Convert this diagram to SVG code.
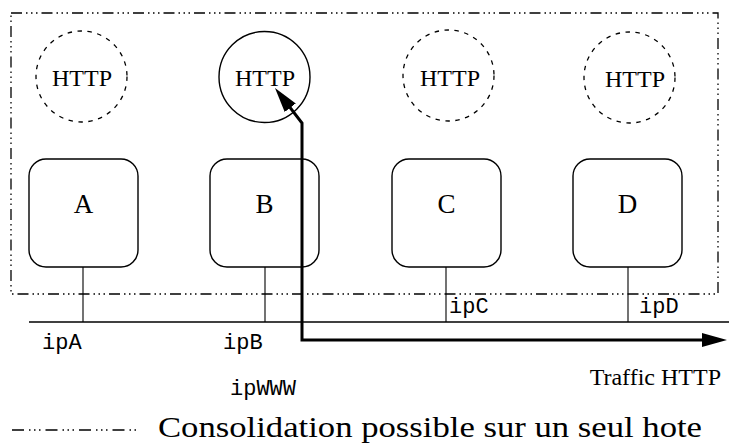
<svg xmlns="http://www.w3.org/2000/svg" width="729" height="443" viewBox="0 0 729 443">
<style>
.frame{fill:none;stroke:#000;stroke-width:1.3;stroke-dasharray:11 4 1.5 3.5 1.5 3.5 1.5 4}
.legend{fill:none;stroke:#000;stroke-width:1.3;stroke-dasharray:12 5 1.5 3.5 1.5 3.5 1.5 5}
.dc{fill:none;stroke:#000;stroke-width:1.3;stroke-dasharray:4.5 5.5}
.sc{fill:none;stroke:#000;stroke-width:1.4}
.box{fill:#fff;stroke:#000;stroke-width:1.4}
.stem{fill:none;stroke:#000;stroke-width:1.1}
.net{fill:none;stroke:#000;stroke-width:1.5}
.flow{fill:none;stroke:#000;stroke-width:3;stroke-linejoin:miter}
.srv{font-family:"Liberation Serif","Times New Roman",serif;font-size:24px;text-anchor:middle;fill:#000}
.let{font-family:"Liberation Serif","Times New Roman",serif;font-size:27px;text-anchor:middle;fill:#000}
.ip{font-family:"Liberation Mono","Courier New",monospace;font-size:22px;fill:#000}
.ser{font-family:"Liberation Serif","Times New Roman",serif;fill:#000}
</style>
<defs>
<marker id="ah" markerUnits="userSpaceOnUse" viewBox="0 0 25 14" markerWidth="25" markerHeight="14" refX="15" refY="7" orient="auto-start-reverse">
<path d="M0,0 L25,7 L0,14 z" fill="#000"/>
</marker>
</defs>
<rect class="frame" x="11" y="13" width="707" height="281"/>
<g id="httpA"><circle class="dc" cx="81.5" cy="76.5" r="45.5"/><text class="srv" x="82" y="86">HTTP</text></g>
<g id="httpB"><circle class="sc" cx="264.5" cy="77" r="45.5"/><text class="srv" x="265" y="86">HTTP</text></g>
<g id="httpC"><circle class="dc" cx="448.5" cy="75.5" r="45.5"/><text class="srv" x="450" y="86">HTTP</text></g>
<g id="httpD"><circle class="dc" cx="629.5" cy="77.5" r="45.5"/><text class="srv" x="635" y="87">HTTP</text></g>
<g id="hostA"><rect class="box" x="29" y="159" width="109" height="108" rx="17"/><text class="let" x="83.5" y="213">A</text></g>
<g id="hostB"><rect class="box" x="210" y="159" width="109" height="108" rx="17"/><text class="let" x="264.5" y="213">B</text></g>
<g id="hostC"><rect class="box" x="392" y="159" width="109" height="108" rx="17"/><text class="let" x="446.5" y="213">C</text></g>
<g id="hostD"><rect class="box" x="573" y="159" width="109" height="108" rx="17"/><text class="let" x="627.5" y="213">D</text></g>
<g id="connectors">
<path class="net" d="M29,322 H729"/>
<path class="stem" d="M83,267 V322 M265,267 V322 M446,267 V322 M628,267 V322"/>
<path class="flow" d="M281.1,95.9 L302,123 L302,340 L717,340" marker-start="url(#ah)" marker-end="url(#ah)"/>
</g>
<g id="labels">
<text class="ip" x="42" y="349">ipA</text>
<text class="ip" x="223" y="349">ipB</text>
<text class="ip" x="230" y="395">ipWWW</text>
<text class="ip" x="449" y="313">ipC</text>
<text class="ip" x="639" y="313">ipD</text>
<text class="ser" x="721" y="385" font-size="24" text-anchor="end">Traffic HTTP</text>
</g>
<g id="legend">
<path class="legend" d="M12,430 H137"/>
<text class="ser" x="158" y="437" font-size="30" textLength="544" lengthAdjust="spacingAndGlyphs">Consolidation possible sur un seul hote</text>
</g>
</svg>
